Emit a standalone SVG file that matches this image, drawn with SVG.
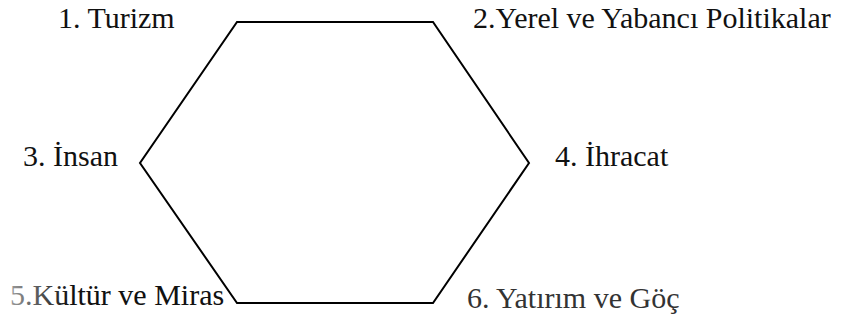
<svg xmlns="http://www.w3.org/2000/svg" width="862" height="325" viewBox="0 0 862 325">
<style>
.t{font-size:30px;fill:#111}
.hex{fill:none;stroke:#000;stroke-width:2;stroke-linejoin:miter}
</style>
<defs>
<linearGradient id="fade5" gradientUnits="userSpaceOnUse" x1="10" y1="0" x2="70" y2="0">
<stop offset="0" stop-color="#9a9a9a"/>
<stop offset="1" stop-color="#111"/>
</linearGradient>
</defs>
<rect width="862" height="325" fill="#fff"/>
<g id="connectors">
<polygon class="hex" points="237,22 433,22 529,163 433,303 237,303 140,163"/>
</g>
<g id="n1"><text class="t" x="58" y="28" font-family="Liberation Serif" style="font-family:'Liberation Serif'">1. Turizm</text></g>
<g id="n2"><text class="t" x="473" y="28" font-family="Liberation Serif" style="font-family:'Liberation Serif'">2.Yerel ve Yabancı Politikalar</text></g>
<g id="n3"><text class="t" x="23" y="166" font-family="Liberation Serif" style="font-family:'Liberation Serif'">3. İnsan</text></g>
<g id="n4"><text class="t" x="555" y="166" font-family="Liberation Serif" style="font-family:'Liberation Serif'">4. İhracat</text></g>
<g id="n5"><text class="t" x="10" y="305" font-family="Liberation Serif" style="font-family:'Liberation Serif';fill:url(#fade5)">5.Kültür ve Miras</text></g>
<g id="n6"><text class="t" x="467" y="308" font-family="Liberation Serif" style="font-family:'Liberation Serif';fill:#333">6. Yatırım ve Göç</text></g>
</svg>
